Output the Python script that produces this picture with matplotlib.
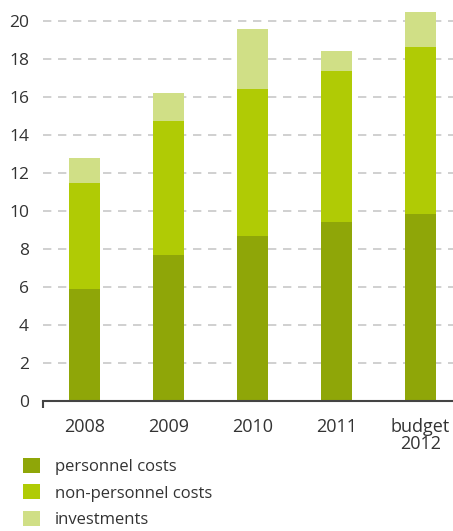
import matplotlib.pyplot as plt
import matplotlib.patches as mpatches
import numpy as np

plt.rcParams["font.family"] = ["Open Sans", "DejaVu Sans"]

categories = ["2008", "2009", "2010", "2011", "budget\n2012"]
personnel = [5.88, 7.67, 8.67, 9.40, 9.83]
non_personnel = [5.57, 7.05, 7.73, 7.95, 8.79]
investments = [1.32, 1.47, 3.16, 1.05, 1.84]
yticks = [0, 2, 4, 6, 8, 10, 12, 14, 16, 18, 20]

series_labels = ["personnel costs", "non-personnel costs", "investments"]
COLORS = ["#8FA608", "#B0CB05", "#D0DF86"]
TEXT = "#333333"

W, H = 453, 531
fig = plt.figure(figsize=(W / 100, H / 100), dpi=100)
# axes: left 43px, x-axis at 400.7px from top, top at ~5px
ax = fig.add_axes([43 / W, (H - 400.7) / H, (W - 43) / W, (400.7 - 5.5) / H])

x = np.arange(len(categories))
width = 0.37
bottom = np.zeros(len(categories))
for vals, color in zip([personnel, non_personnel, investments], COLORS):
    ax.bar(x, vals, width, bottom=bottom, color=color, zorder=3, linewidth=0)
    bottom += np.array(vals)

ax.set_xlim(-0.494, 4.39)
ax.set_ylim(0, 20.8)
ax.set_yticks(yticks)
ax.set_yticklabels([str(v) for v in yticks], fontsize=12.5, color=TEXT)
ax.set_xticks(x)
ax.set_xticklabels(categories, fontsize=13, color=TEXT, linespacing=0.95)
ax.tick_params(axis="y", length=0, pad=10)
ax.tick_params(axis="x", length=0, pad=12.5)

# small tick at left end of the baseline
ax.set_xticks([-0.494], minor=True)
ax.tick_params(axis="x", which="minor", length=5, width=1.5, color="#444444", direction="out")

ax.grid(axis="y", color="#c8c8c8", linestyle=(0, (5, 4)), linewidth=1.2, zorder=0)
for side in ["top", "right", "left"]:
    ax.spines[side].set_visible(False)
ax.spines["bottom"].set_color("#444444")
ax.spines["bottom"].set_linewidth(1.5)
ax.spines["bottom"].set_zorder(4)

handles = [mpatches.Patch(color=c, label=l, linewidth=0) for c, l in zip(COLORS, series_labels)]
fig.legend(
    handles=handles, loc="upper left", bbox_to_anchor=(23 / W, 1 - 458 / H),
    frameon=False, fontsize=12, handlelength=1.0, handleheight=1.0,
    handletextpad=0.9, labelspacing=0.55, borderpad=0, borderaxespad=0,
    labelcolor=TEXT,
)

plt.savefig("out.png", dpi=100)
plt.close()
